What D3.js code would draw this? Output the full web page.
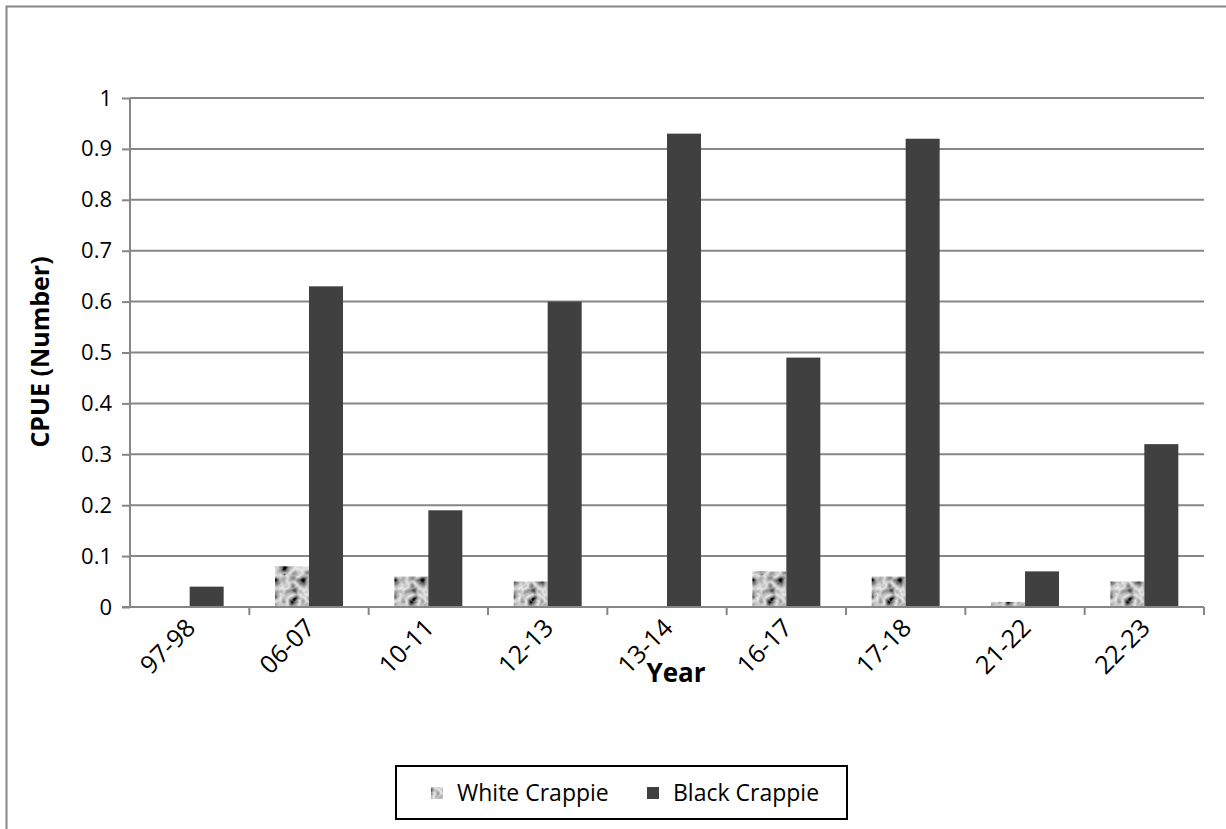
<!DOCTYPE html>
<html>
<head>
<meta charset="utf-8">
<script src="https://cdn.jsdelivr.net/npm/d3@7"></script>
<style>
  html, body { margin: 0; padding: 0; background: #fff; }
  svg { display: block; font-family: "Open Sans", "Liberation Sans", sans-serif; }
</style>
</head>
<body>
<svg id="chart" width="1226" height="829"></svg>
<script>
// Catch per unit effort by sampling year
const years = ["97-98", "06-07", "10-11", "12-13", "13-14", "16-17", "17-18", "21-22", "22-23"];
const whiteCrappie = [0, 0.08, 0.06, 0.05, 0, 0.07, 0.06, 0.01, 0.05];
const blackCrappie = [0.04, 0.63, 0.19, 0.60, 0.93, 0.49, 0.92, 0.07, 0.32];
const seriesNames = ["White Crappie", "Black Crappie"];
const yTicks = [0, 0.1, 0.2, 0.3, 0.4, 0.5, 0.6, 0.7, 0.8, 0.9, 1];

const svg = d3.select("#chart");
const plot = { left: 130, right: 1204, top: 98, bottom: 607 };

// Mottled grey texture for White Crappie
const defs = svg.append("defs");
const filt = defs.append("filter").attr("id", "mottle")
  .attr("filterUnits", "userSpaceOnUse")
  .attr("x", 0).attr("y", 0).attr("width", 64).attr("height", 64);
filt.append("feTurbulence").attr("type", "turbulence")
  .attr("baseFrequency", 0.07).attr("numOctaves", 2).attr("seed", 7)
  .attr("stitchTiles", "stitch").attr("result", "n");
filt.append("feColorMatrix").attr("in", "n").attr("type", "matrix")
  .attr("values", "-1.6 0 0 0 0.84  -1.6 0 0 0 0.84  -1.6 0 0 0 0.84  0 0 0 0 1");
const pat = defs.append("pattern").attr("id", "whiteTex")
  .attr("patternUnits", "userSpaceOnUse").attr("width", 64).attr("height", 64);
pat.append("rect").attr("width", 64).attr("height", 64).attr("filter", "url(#mottle)");

// Outer chart frame
svg.append("rect").attr("x", 6.5).attr("y", 6.5).attr("width", 1240).attr("height", 840)
  .attr("fill", "#fff").attr("stroke", "#868686").attr("stroke-width", 2);

const x = d3.scaleBand().domain(years).range([plot.left, plot.right]).paddingInner(0).paddingOuter(0);
const xs = d3.scaleBand().domain(seriesNames)
  .range([x.bandwidth() / 2 - 34, x.bandwidth() / 2 + 34]);
const y = d3.scaleLinear().domain([0, 1]).range([plot.bottom, plot.top]);

// Horizontal gridlines
svg.append("g").selectAll("line").data(yTicks.slice(1)).join("line")
  .attr("x1", plot.left).attr("x2", plot.right)
  .attr("y1", d => y(d)).attr("y2", d => y(d))
  .attr("stroke", "#868686").attr("stroke-width", 2);

// Bars
const groups = svg.append("g").selectAll("g").data(years).join("g")
  .attr("transform", d => `translate(${x(d)},0)`);
groups.append("rect")
  .attr("x", xs("White Crappie")).attr("width", xs.bandwidth())
  .attr("y", (d, i) => y(whiteCrappie[i]))
  .attr("height", (d, i) => y(0) - y(whiteCrappie[i]))
  .attr("fill", "url(#whiteTex)");
groups.append("rect")
  .attr("x", xs("Black Crappie")).attr("width", xs.bandwidth())
  .attr("y", (d, i) => y(blackCrappie[i]))
  .attr("height", (d, i) => y(0) - y(blackCrappie[i]))
  .attr("fill", "#404040");

// Y axis
const yAxis = svg.append("g").attr("transform", `translate(${plot.left},0)`)
  .call(d3.axisLeft(y).tickValues(yTicks).tickFormat(d => d3.format("")(d)).tickSize(8).tickPadding(10));
yAxis.attr("font-family", null).attr("font-size", null);
yAxis.select(".domain").attr("stroke", "#868686").attr("stroke-width", 2)
  .attr("d", `M0,${plot.top}V${plot.bottom}`);
yAxis.selectAll(".tick line").attr("stroke", "#868686").attr("stroke-width", 2);
yAxis.selectAll(".tick text").attr("font-size", 22).attr("fill", "#000");

// X axis
const xAxis = svg.append("g").attr("transform", `translate(0,${plot.bottom})`)
  .call(d3.axisBottom(x).tickSize(0).tickPadding(0));
xAxis.attr("font-family", null).attr("font-size", null);
xAxis.select(".domain").attr("stroke", "#868686").attr("stroke-width", 2)
  .attr("d", `M${plot.left - 8},0H${plot.right}`);
xAxis.selectAll(".tick text")
  .attr("font-size", 25).attr("fill", "#000")
  .attr("text-anchor", "end").attr("dy", "0.3em")
  .attr("transform", "translate(2,17) rotate(-45)");
// boundary ticks between categories
svg.append("g").selectAll("line")
  .data(years.map(d => x(d) + x.bandwidth()))
  .join("line")
  .attr("x1", d => d).attr("x2", d => d)
  .attr("y1", plot.bottom).attr("y2", plot.bottom + 8)
  .attr("stroke", "#868686").attr("stroke-width", 2);

// Axis titles
svg.append("text").attr("x", 676).attr("y", 682).attr("text-anchor", "middle")
  .attr("font-size", 26).attr("font-weight", "bold").text("Year");
svg.append("text").attr("transform", "translate(49,352) rotate(-90)")
  .attr("text-anchor", "middle").attr("font-size", 25).attr("font-weight", "bold")
  .text("CPUE (Number)");

// Legend
const lg = svg.append("g");
lg.append("rect").attr("x", 396).attr("y", 766).attr("width", 451).attr("height", 53)
  .attr("fill", "#fff").attr("stroke", "#000").attr("stroke-width", 2);
const items = [
  { name: seriesNames[0], fill: "url(#whiteTex)", sx: 431, tx: 457 },
  { name: seriesNames[1], fill: "#404040", sx: 647, tx: 673 }
];
items.forEach(it => {
  lg.append("rect").attr("x", it.sx).attr("y", 787).attr("width", 12).attr("height", 12).attr("fill", it.fill);
  lg.append("text").attr("x", it.tx).attr("y", 801).attr("font-size", 23).text(it.name);
});
</script>
</body>
</html>
